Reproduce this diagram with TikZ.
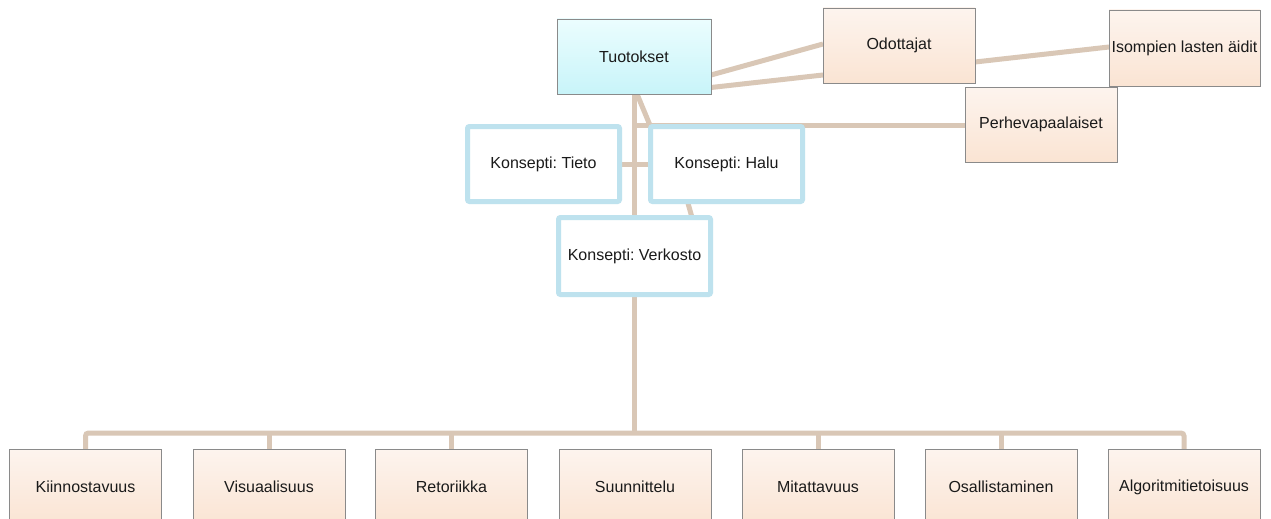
\documentclass[tikz,border=0pt]{standalone}
\usepackage{fontspec}
\setmainfont{Liberation Sans}
\usetikzlibrary{calc,backgrounds}
\frenchspacing
\definecolor{link}{HTML}{D9C7B6}
\definecolor{edge}{HTML}{8A8A8A}
\definecolor{conceptline}{HTML}{BEE2EE}
\definecolor{peachtop}{HTML}{FDF4EE}
\definecolor{peachbot}{HTML}{FAE4D3}
\definecolor{cyantop}{HTML}{EBFDFE}
\definecolor{cyanbot}{HTML}{C8F4F9}
\definecolor{ink}{HTML}{1A1A1A}
\tikzset{
  every node/.style={font=\fontsize{16}{19}\selectfont\frenchspacing, text=ink},
  topicbox/.style={draw=edge, line width=0.9pt, top color=peachtop, bottom color=peachbot,
    minimum width=152pt, minimum height=75pt, inner sep=0pt, outer sep=0pt},
  outputbox/.style={draw=edge, line width=0.9pt, top color=cyantop, bottom color=cyanbot,
    minimum width=154pt, minimum height=75pt, inner sep=0pt, outer sep=0pt},
  conceptbox/.style={draw=conceptline, line width=5pt, fill=white, rounded corners=2pt,
    minimum width=152pt, minimum height=75pt, inner sep=0pt, outer sep=0pt},
  link/.style={draw=link, line width=5pt},
}
\begin{document}
\begin{tikzpicture}[x=1pt,y=-1pt]
\clip (0,0) rectangle (1271,519);
\useasboundingbox (0,0) rectangle (1271,519);

% top cluster
\node[outputbox] (tuo) at (634,56.5) {Tuotokset};
\node[topicbox, minimum width=152pt] (odo) at (899,45.5) {Odottajat};
\node[topicbox, minimum width=151pt, minimum height=76pt] (iso) at (1184.5,48) {Isompien lasten äidit};
\node[topicbox] (per) at (1041,124.5) {Perhevapaalaiset};

% concepts
\node[conceptbox] (tie) at (543.5,164) {Konsepti: Tieto};
\node[conceptbox] (hal) at (726.5,164) {Konsepti: Halu};
\node[conceptbox, minimum height=77pt] (ver) at (634.5,256) {Konsepti: Verkosto};

% criteria row
\node[topicbox, minimum height=76pt] (k1) at (85.5,487) {Kiinnostavuus};
\node[topicbox, minimum height=76pt] (k2) at (269,487) {Visuaalisuus};
\node[topicbox, minimum height=76pt] (k3) at (451.5,487) {Retoriikka};
\node[topicbox, minimum height=76pt] (k4) at (635,487) {Suunnittelu};
\node[topicbox, minimum height=76pt] (k5) at (818,487) {Mitattavuus};
\node[topicbox, minimum height=76pt] (k6) at (1001,487) {Osallistaminen};
\node[topicbox, minimum height=76pt] (k7) at (1184,487) {Algoritmitietoisuus};

\coordinate (bus) at (634,433);
\coordinate (fork) at (634,125);

\begin{scope}[on background layer]
\fill[white] (0,0) rectangle (1271,519);
% trunk and branches
\draw[link] (tuo.south) -- (bus);
\draw[link, rounded corners=3pt] (k1.north) |- (bus) -| (k7.north);
\foreach \k in {k2,k3,k5,k6} \draw[link] (\k.north) -- (\k.north |- bus);
\draw[link] (fork) -- (per.west |- fork);
\draw[link] ($(tuo.south)+(3,0)$) -- (hal.north west);
\draw[link] (tie.east) -- (hal.west);
\draw[link] ($(hal.south west)+(37,0)$) -- ($(ver.north west)+(133.5,0)$);
% audience links
\draw[link] ($(tuo.east)+(0,18.5)$) -- ($(odo.west)+(0,-1.5)$);
\draw[link] ($(tuo.east)+(0,31)$) -- ($(odo.west)+(0,29.5)$);
\draw[link] ($(odo.east)+(0,16.5)$) -- ($(iso.west)+(0,-1)$);
\end{scope}
\end{tikzpicture}
\end{document}
